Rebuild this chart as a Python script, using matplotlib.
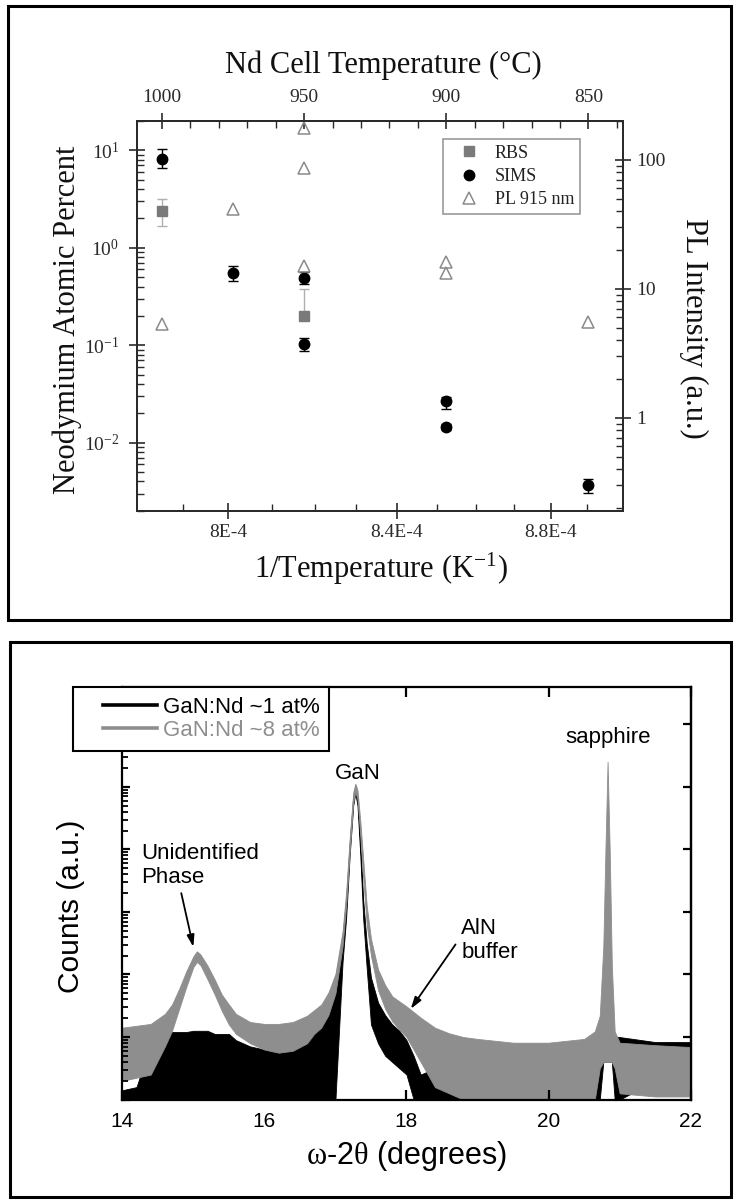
import numpy as np
import matplotlib
matplotlib.use('Agg')
import matplotlib.pyplot as plt
from matplotlib.patches import Rectangle
from matplotlib.lines import Line2D
from matplotlib.legend_handler import HandlerLine2D
from matplotlib.ticker import FixedLocator, NullFormatter, NullLocator, LogLocator

plt.rcParams['mathtext.fontset'] = 'custom'
plt.rcParams['mathtext.rm'] = 'Liberation Serif'
plt.rcParams['mathtext.it'] = 'Liberation Serif:italic'

SERIF = 'Liberation Serif'
SANS = 'Liberation Sans'

# ---------------- top panel data (x = Nd cell temperature, deg C) ----------------
sims_T = [1000, 975, 950, 950, 900, 900, 850]
sims_nd = [8.2, 0.55, 0.49, 0.103, 0.027, 0.0144, 0.00366]
sims_lo = [6.6, 0.46, 0.42, 0.088, 0.0223, 0.0135, 0.00303]
sims_hi = [10.2, 0.65, 0.56, 0.118, 0.0294, 0.0154, 0.00421]

rbs_T = [1000, 950]
rbs_nd = [2.39, 0.20]
rbs_lo = [1.68, 0.18]
rbs_hi = [3.13, 0.38]

pl_T = [1000, 975, 950, 950, 950, 900, 900, 850]
pl_int = [5.3, 41.6, 175, 87, 15.1, 16.0, 13.3, 5.55]

cell_T_major = [1000, 950, 900, 850]
cell_T_minor = [990, 980, 970, 960, 940, 930, 920, 910, 890, 880, 870, 860, 840]
inv_T_major = [8.0e-4, 8.4e-4, 8.8e-4]
inv_T_labels = ['8E-4', '8.4E-4', '8.8E-4']
inv_T_minor = [7.9e-4, 8.1e-4, 8.2e-4, 8.3e-4, 8.5e-4, 8.6e-4, 8.7e-4, 8.9e-4]
inv_T_range = [7.8e-4, 9.0e-4]

# ---------------- bottom panel data (log10 counts, noise band edges) ----------------
xrd_2theta = [14.0, 14.2, 14.4, 14.6, 14.7, 14.8, 14.9, 15.0, 15.05, 15.1, 15.2, 15.3,
              15.4, 15.5, 15.6, 15.8, 16.0, 16.2, 16.4, 16.6, 16.7, 16.8, 16.9, 17.0,
              17.1, 17.15, 17.2, 17.25, 17.28, 17.31, 17.35, 17.39, 17.44, 17.5, 17.6,
              17.7, 17.8, 17.9, 18.0, 18.1, 18.2, 18.4, 18.6, 18.8, 19.0, 19.5, 20.0,
              20.5, 20.65, 20.72, 20.77, 20.8, 20.83, 20.86, 20.89, 20.93, 21.0, 21.5, 22.0]
gray_hi_log = [1.15, 1.18, 1.21, 1.37, 1.52, 1.77, 2.05, 2.29, 2.37, 2.32, 2.14, 1.92,
               1.68, 1.52, 1.37, 1.24, 1.21, 1.21, 1.24, 1.34, 1.43, 1.52, 1.71, 2.01,
               2.69, 3.31, 4.17, 4.91, 5.05, 4.95, 4.45, 3.85, 3.10, 2.57, 2.08,
               1.83, 1.65, 1.57, 1.49, 1.40, 1.31, 1.15, 1.06, 1.00, 0.97, 0.91, 0.91,
               0.97, 1.09, 1.34, 2.45, 3.99, 5.40, 3.99, 2.14, 1.09, 0.91, 0.87, 0.84]
gray_lo_log = [0.30, 0.35, 0.40, 0.85, 1.10, 1.45, 1.80, 2.12, 2.20, 2.15, 1.92, 1.68,
               1.42, 1.20, 1.05, 0.90, 0.80, 0.75, 0.78, 0.90, 1.05, 1.15, 1.35, 1.70,
               2.45, 3.10, 3.95, 4.75, 4.92, 4.80, 4.20, 3.55, 2.80, 2.30, 1.75,
               1.45, 1.25, 1.12, 1.00, 0.80, 0.60, 0.20, 0.10, 0.00, 0.00, 0.00, 0.00,
               0.00, 0.00, 0.50, 0.60, 0.60, 0.60, 0.60, 0.60, 0.50, 0.10, 0.05, 0.05]
black_hi_log = [0.15, 0.20, 0.90, 1.08, 1.08, 1.08, 1.08, 1.10, 1.10, 1.10, 1.10, 1.05,
                1.05, 1.05, 0.95, 0.85, 0.80, 0.75, 0.80, 0.95, 1.10, 1.30, 1.55, 1.95,
                2.60, 3.20, 4.10, 4.85, 5.02, 4.85, 4.10, 3.20, 2.50, 1.95, 1.55,
                1.35, 1.20, 1.10, 0.95, 0.70, 0.40, 0.50, 0.55, 0.30, 0.00, 0.00, 0.00,
                0.00, 0.50, 1.10, 0.60, 0.60, 0.60, 0.60, 0.60, 1.00, 1.00, 0.92, 0.92]
black_lo_log = [0.00, 0.00, 0.00, 0.00, 0.00, 0.00, 0.00, 0.00, 0.00, 0.00, 0.00, 0.00,
                0.00, 0.00, 0.00, 0.00, 0.00, 0.00, 0.00, 0.00, 0.00, 0.00, 0.00, 0.00,
                2.20, 2.90, 3.90, 4.70, 4.90, 4.70, 3.90, 2.90, 2.10, 1.20, 0.90,
                0.70, 0.60, 0.50, 0.40, 0.00, 0.00, 0.00, 0.00, 0.00, 0.00, 0.00, 0.00,
                0.00, 0.00, 0.00, 0.60, 0.60, 0.60, 0.60, 0.60, 0.00, 0.00, 0.30, 0.30]
xrd_labels = ['GaN:Nd ~1 at%', 'GaN:Nd ~8 at%']
xrd_colors = ['black', '#8e8e8e']

W, H = 738, 1204


def fx(px):
    return px / W


def fy(py):
    return 1 - py / H


def to_c(inv):
    return 1.0 / inv - 273.15


fig = plt.figure(figsize=(W / 100, H / 100), dpi=100)

# panel frames
fig.add_artist(Rectangle((fx(8), fy(620)), fx(731) - fx(8), fy(6) - fy(620),
                         transform=fig.transFigure, fill=False, lw=2.2, ec='black'))
fig.add_artist(Rectangle((fx(10), fy(1197)), fx(731) - fx(10), fy(642) - fy(1197),
                         transform=fig.transFigure, fill=False, lw=2.2, ec='black'))

# ================= top panel =================
ink = '#2a2a2a'
ax = fig.add_axes([fx(136.7), fy(510.7), fx(622.7) - fx(136.7), fy(121) - fy(510.7)])
ax_r = ax.twinx()

ax.set_xlim(to_c(inv_T_range[0]), to_c(inv_T_range[1]))
ax.set_yscale('log')
ax.set_ylim(0.002, 20)
ax_r.set_yscale('log')
ax_r.set_ylim(0.19, 200)

sims_err = [np.array(sims_nd) - np.array(sims_lo), np.array(sims_hi) - np.array(sims_nd)]
rbs_err = [np.array(rbs_nd) - np.array(rbs_lo), np.array(rbs_hi) - np.array(rbs_nd)]

ax.errorbar(rbs_T, rbs_nd, yerr=rbs_err, fmt='none', ecolor='#b0b0b0',
            elinewidth=1.0, capsize=3.5, capthick=1.0)
ax.errorbar(sims_T, sims_nd, yerr=sims_err, fmt='none', ecolor='black',
            elinewidth=1.0, capsize=3.5, capthick=1.0)
h_rbs, = ax.plot(rbs_T, rbs_nd, 's', color='#7a7a7a', ms=6.5, label='RBS')
h_sims, = ax.plot(sims_T, sims_nd, 'o', color='black', ms=7.5, label='SIMS')
h_pl, = ax_r.plot(pl_T, pl_int, '^', mfc='none', mec='#8a8a8a', mew=1.1, ms=9,
                  label='PL 915 nm')

# bottom axis: 1/T ticks placed on the temperature scale
ax.xaxis.set_major_locator(FixedLocator([to_c(v) for v in inv_T_major]))
ax.set_xticklabels(inv_T_labels)
ax.xaxis.set_minor_locator(FixedLocator([to_c(v) for v in inv_T_minor]))

ax_t = ax.secondary_xaxis('top')
ax_t.set_xticks(cell_T_major)
ax_t.set_xticklabels([str(t) for t in cell_T_major])
ax_t.xaxis.set_minor_locator(FixedLocator(cell_T_minor))

left_dec = [0.01, 0.1, 1, 10]
ax.yaxis.set_major_locator(FixedLocator(left_dec))
ax.set_yticklabels([r'$\mathregular{10^{%d}}$' % int(np.log10(v)) for v in left_dec])
ax.yaxis.set_minor_locator(LogLocator(base=10, subs=np.arange(2, 10), numticks=20))
ax.yaxis.set_minor_formatter(NullFormatter())

right_dec = [1, 10, 100]
ax_r.yaxis.set_major_locator(FixedLocator(right_dec))
ax_r.set_yticklabels(['1', '10', '100'])
ax_r.yaxis.set_minor_locator(LogLocator(base=10, subs=np.arange(2, 10), numticks=20))
ax_r.yaxis.set_minor_formatter(NullFormatter())

for a in (ax, ax_r):
    for s in a.spines.values():
        s.set_color(ink)
        s.set_linewidth(1.3)
ax_t.spines['top'].set_color(ink)
ax_t.spines['top'].set_linewidth(1.3)

ax.tick_params(axis='x', which='major', direction='inout', length=11, width=1.2,
               pad=4, labelsize=14, labelfontfamily=SERIF, color=ink, labelcolor=ink)
ax.tick_params(axis='x', which='minor', direction='in', length=5, width=1.0, color=ink)
ax_t.tick_params(axis='x', which='major', direction='inout', length=11, width=1.2,
                 pad=5.5, labelsize=14, labelfontfamily=SERIF, color=ink, labelcolor=ink)
ax_t.tick_params(axis='x', which='minor', direction='in', length=5, width=1.0, color=ink)
ax.tick_params(axis='y', which='major', direction='inout', length=11, width=1.2,
               pad=7, labelsize=14, labelfontfamily=SERIF, color=ink, labelcolor=ink)
ax.tick_params(axis='y', which='minor', direction='in', length=5, width=1.0, color=ink)
ax_r.tick_params(axis='y', which='major', direction='inout', length=11, width=1.2,
                 pad=4, labelsize=14, labelfontfamily=SERIF, color=ink, labelcolor=ink)
ax_r.tick_params(axis='y', which='minor', direction='in', length=5, width=1.0, color=ink)

fig.text(fx(383.5), fy(73.5), 'Nd Cell Temperature (\u00b0C)', ha='center', va='baseline',
         fontsize=22, family=SERIF, color='#111')
fig.text(fx(67), fy(319.5), 'Neodymium Atomic Percent', ha='center', va='center',
         rotation=90, fontsize=22, family=SERIF, color='#111')
fig.text(fx(694), fy(328), 'PL Intensity (a.u.)', ha='center', va='center',
         rotation=270, fontsize=22, family=SERIF, color='#111')
fig.text(fx(380.5), fy(578), r'1/Temperature (K$^{\mathregular{-1}}$)', ha='center',
         va='baseline', fontsize=22, family=SERIF, color='#111')

leg1 = fig.legend([h_rbs, h_sims, h_pl], ['RBS', 'SIMS', 'PL 915 nm'], loc='upper left',
                  bbox_to_anchor=(fx(443.3), fy(139.3)), bbox_transform=fig.transFigure,
                  borderaxespad=0, fancybox=False, framealpha=1, edgecolor='#9a9a9a',
                  prop={'family': SERIF, 'size': 13}, handlelength=2.2,
                  handletextpad=0.35, labelspacing=0.35, borderpad=0.3)
leg1.get_frame().set_linewidth(1.2)
for t in leg1.get_texts():
    t.set_color('#222')

# ================= bottom panel =================
bx = fig.add_axes([fx(122.3), fy(1099.6), fx(690.7) - fx(122.3), fy(686.7) - fy(1099.6)])
bx.set_xlim(14, 22)
bx.set_yscale('log')
bx.set_ylim(1, 10 ** 6.6)

xx = np.array(xrd_2theta)
bx.fill_between(xx, 10 ** np.array(black_lo_log), 10 ** np.array(black_hi_log),
                color=xrd_colors[0], lw=0.6)
bx.fill_between(xx, 10 ** np.array(gray_lo_log), 10 ** np.array(gray_hi_log),
                color=xrd_colors[1], lw=0.6)

for s in bx.spines.values():
    s.set_linewidth(1.6)
    s.set_color('black')

bx.set_xticks([14, 16, 18, 20, 22])
bx.tick_params(axis='x', which='both', direction='in', length=7, width=1.6, top=True,
               labeltop=False, pad=9, labelsize=15, labelfontfamily=SANS)
bx.yaxis.set_major_locator(LogLocator(base=10, numticks=20))
bx.yaxis.set_minor_locator(LogLocator(base=10, subs=np.arange(2, 10), numticks=20))
bx.yaxis.set_major_formatter(NullFormatter())
bx.yaxis.set_minor_formatter(NullFormatter())
bx.tick_params(axis='y', which='major', direction='in', length=6, width=1.6, left=True)
bx.tick_params(axis='y', which='minor', direction='in', length=4.5, width=1.3, left=True)

bx_r = bx.secondary_yaxis('right')
bx_r.yaxis.set_major_locator(FixedLocator([10.0 ** k for k in range(1, 7)]))
bx_r.yaxis.set_minor_locator(NullLocator())
bx_r.yaxis.set_major_formatter(NullFormatter())
bx_r.tick_params(axis='y', direction='in', length=6, width=1.6)
bx_r.spines['right'].set_linewidth(1.6)

bx.set_xlabel(r'$\mathrm{\omega}$-2$\mathrm{\theta}$ (degrees)', fontsize=22, family=SANS,
              labelpad=6)
fig.text(fx(71), fy(906), 'Counts (a.u.)', ha='center', va='center', rotation=90,
         fontsize=21.5, family=SANS)

txt = dict(fontsize=16, family=SANS, color='black')
bx.text(14.26, 10 ** 4.1, 'Unidentified\nPhase', ha='left', va='top', linespacing=1.15, **txt)
bx.text(17.32, 10 ** 5.22, 'GaN', ha='center', va='center', **txt)
bx.text(20.84, 10 ** 5.79, 'sapphire', ha='center', va='center', **txt)
bx.text(18.77, 10 ** 2.9, 'AlN\nbuffer', ha='left', va='top', linespacing=1.15, **txt)
arrow = dict(arrowstyle='-|>,head_length=0.7,head_width=0.22', color='black', lw=1.3,
             shrinkA=0, shrinkB=0)
bx.annotate('', xy=(15.0, 10 ** 2.44), xytext=(14.83, 10 ** 3.30), arrowprops=arrow)
bx.annotate('', xy=(18.06, 10 ** 1.45), xytext=(18.69, 10 ** 2.48), arrowprops=arrow)


class OffsetLine(HandlerLine2D):
    def create_artists(self, legend, orig_handle, xdescent, ydescent, width, height,
                       fontsize, trans):
        off = 0.27 * width
        return super().create_artists(legend, orig_handle, xdescent - off, ydescent,
                                      width - off, height, fontsize, trans)


xrd_handles = [Line2D([], [], color=c, lw=2.6) for c in xrd_colors]
leg2 = fig.legend(xrd_handles, xrd_labels, loc='upper left',
                  bbox_to_anchor=(fx(72.7), fy(686.7)), bbox_transform=fig.transFigure,
                  borderaxespad=0, fancybox=False, framealpha=1, edgecolor='black',
                  prop={'family': SANS, 'size': 16}, handlelength=3.33,
                  handletextpad=0.27, labelspacing=0.1, borderpad=0.45,
                  handler_map={Line2D: OffsetLine()})
leg2.get_frame().set_linewidth(1.5)
for t, c in zip(leg2.get_texts(), xrd_colors):
    t.set_color(c)

fig.savefig('out.png', dpi=100)
